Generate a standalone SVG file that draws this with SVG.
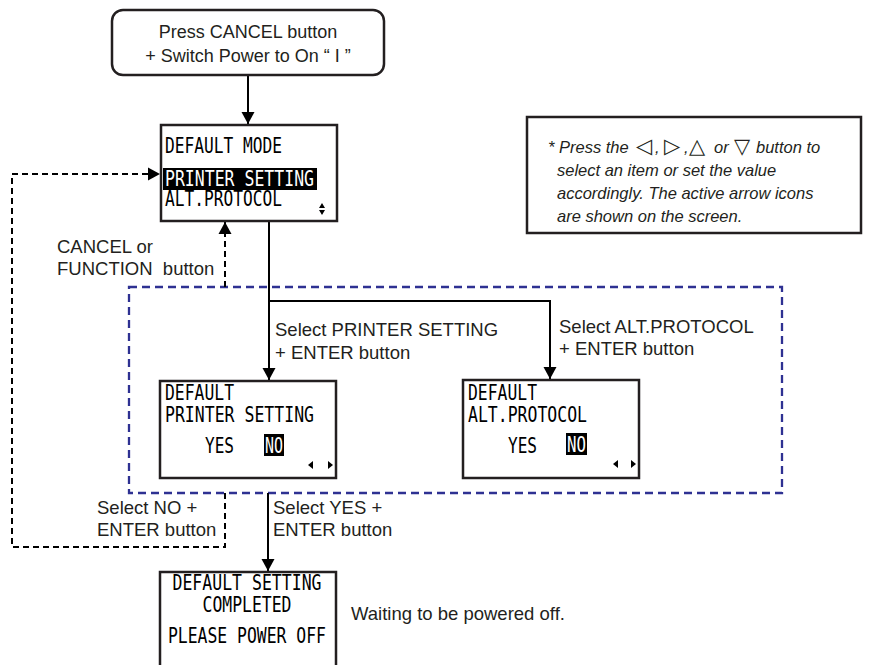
<svg xmlns="http://www.w3.org/2000/svg" width="880" height="665" viewBox="0 0 880 665">
<defs>
<style>
.lbl{font-family:"Liberation Sans",Arial,sans-serif;font-size:18.5px;fill:#231f20}
.top{font-family:"Liberation Sans",Arial,sans-serif;font-size:18px;fill:#231f20}
.note{font-family:"Liberation Sans",Arial,sans-serif;font-size:16.5px;font-style:italic;fill:#231f20}
.sym{font-family:"DejaVu Sans",sans-serif;font-style:normal;font-size:21px}
.scr{font-family:"DejaVu Sans Mono","Liberation Mono",monospace;font-size:21px;fill:#000}
.scrw{font-family:"DejaVu Sans Mono","Liberation Mono",monospace;font-size:21px;fill:#fff}
.box{fill:#fff;stroke:#231f20;stroke-width:2.5}
.solid{fill:none;stroke:#000;stroke-width:2}
.dash{fill:none;stroke:#000;stroke-width:2;stroke-dasharray:6 4}
.blue{fill:none;stroke:#2e3192;stroke-width:2.3;stroke-dasharray:8 5}
</style>
<marker id="ah" markerWidth="14" markerHeight="14" refX="12" refY="7" orient="auto" markerUnits="userSpaceOnUse">
<path d="M0,0.5 L12,7 L0,13.5 z" fill="#000"/>
</marker>
</defs>
<rect width="880" height="665" fill="#fff"/>

<g id="group-box">
<rect class="blue" x="129" y="287" width="653" height="206"/>
</g>

<g id="connectors">
<path class="solid" d="M248,75 V124" marker-end="url(#ah)"/>
<path class="solid" d="M269,221 V380" marker-end="url(#ah)"/>
<path class="solid" d="M269,301 H550 V379" marker-end="url(#ah)"/>
<path class="dash" d="M225,287 V222" marker-end="url(#ah)"/>
<path class="dash" d="M225,493 V547 H12 V174 H160" marker-end="url(#ah)"/>
<path class="solid" d="M268,493 V571" marker-end="url(#ah)"/>
</g>

<g id="start">
<rect class="box" x="112" y="10" width="272" height="65" rx="11"/>
<text class="top" x="248" y="38" text-anchor="middle">Press CANCEL button</text>
<text class="top" x="248" y="62" text-anchor="middle">+ Switch Power to On “ I ”</text>
</g>

<g id="default-mode">
<rect class="box" x="161" y="125" width="176" height="96"/>
<text class="scr" x="165" y="153" textLength="117" lengthAdjust="spacingAndGlyphs">DEFAULT MODE</text>
<rect x="163" y="168" width="154" height="22" fill="#000"/>
<text class="scrw" x="165" y="186" textLength="149" lengthAdjust="spacingAndGlyphs">PRINTER SETTING</text>
<text class="scr" x="165" y="206" textLength="117" lengthAdjust="spacingAndGlyphs">ALT.PROTOCOL</text>
<path d="M322,203 L325,208 L319,208 z M319,210 L325,210 L322,215 z" fill="#000"/>
</g>

<g id="note">
<rect x="527" y="117" width="334" height="116" fill="#fff" stroke="#231f20" stroke-width="2.5"/>
<text class="note" x="548" y="153">* Press the <tspan class="sym" x="636">◁</tspan><tspan x="655">,</tspan><tspan class="sym" x="664">▷</tspan><tspan x="684">,</tspan><tspan class="sym" x="689">△</tspan><tspan x="714">or</tspan><tspan class="sym" x="734">▽</tspan><tspan x="756">button to</tspan></text>
<text class="note" x="557" y="176">select an item or set the value</text>
<text class="note" x="557" y="199">accordingly. The active arrow icons</text>
<text class="note" x="557" y="222">are shown on the screen.</text>
</g>

<g id="label-cancel">
<text class="lbl" x="57" y="253">CANCEL or</text>
<text class="lbl" x="57" y="275" xml:space="preserve">FUNCTION  button</text>
</g>

<g id="label-select-printer">
<text class="lbl" x="275" y="336">Select PRINTER SETTING</text>
<text class="lbl" x="275" y="359">+ ENTER button</text>
</g>

<g id="label-select-alt">
<text class="lbl" x="559" y="333">Select ALT.PROTOCOL</text>
<text class="lbl" x="559" y="355">+ ENTER button</text>
</g>

<g id="printer-setting">
<rect class="box" x="160" y="381" width="176" height="97"/>
<text class="scr" x="165" y="400" textLength="69" lengthAdjust="spacingAndGlyphs">DEFAULT</text>
<text class="scr" x="165" y="422" textLength="149" lengthAdjust="spacingAndGlyphs">PRINTER SETTING</text>
<text class="scr" x="205" y="453" textLength="29" lengthAdjust="spacingAndGlyphs">YES</text>
<rect x="264" y="434" width="20" height="22" fill="#000"/>
<text class="scrw" x="265" y="453" textLength="18" lengthAdjust="spacingAndGlyphs">NO</text>
<path d="M308,465 L313,461 L313,469 z M328,461 L333,465 L328,469 z" fill="#000"/>
</g>

<g id="alt-protocol">
<rect class="box" x="463" y="380" width="176" height="98"/>
<text class="scr" x="468" y="400" textLength="69" lengthAdjust="spacingAndGlyphs">DEFAULT</text>
<text class="scr" x="468" y="422" textLength="119" lengthAdjust="spacingAndGlyphs">ALT.PROTOCOL</text>
<text class="scr" x="508" y="453" textLength="29" lengthAdjust="spacingAndGlyphs">YES</text>
<rect x="566" y="433" width="21" height="22" fill="#000"/>
<text class="scrw" x="567" y="452" textLength="19" lengthAdjust="spacingAndGlyphs">NO</text>
<path d="M613,464 L618,460 L618,468 z M631,460 L636,464 L631,468 z" fill="#000"/>
</g>

<g id="label-no">
<text class="lbl" x="97" y="514">Select NO +</text>
<text class="lbl" x="97" y="536">ENTER button</text>
</g>

<g id="label-yes">
<text class="lbl" x="273" y="514">Select YES +</text>
<text class="lbl" x="273" y="536">ENTER button</text>
</g>

<g id="completed">
<rect class="box" x="160" y="572" width="176" height="120"/>
<text class="scr" x="247" y="590" text-anchor="middle" textLength="149" lengthAdjust="spacingAndGlyphs">DEFAULT SETTING</text>
<text class="scr" x="247" y="612" text-anchor="middle" textLength="89" lengthAdjust="spacingAndGlyphs">COMPLETED</text>
<text class="scr" x="247" y="643" text-anchor="middle" textLength="158" lengthAdjust="spacingAndGlyphs">PLEASE POWER OFF</text>
</g>

<g id="label-waiting">
<text class="lbl" x="351" y="620">Waiting to be powered off.</text>
</g>
</svg>
